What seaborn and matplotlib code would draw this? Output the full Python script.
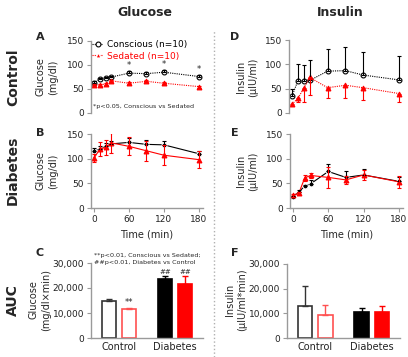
import numpy as np
import pandas as pd
import seaborn as sns
import matplotlib.pyplot as plt
from matplotlib.lines import Line2D
from matplotlib.ticker import StrMethodFormatter

# dados (media e EPM)
tempos = [0, 10, 20, 30, 60, 90, 120, 180]

glic_ctrl_consc = [63, 70, 73, 75, 83, 82, 85, 76]
glic_ctrl_consc_epm = [3, 2, 2, 3, 4, 3, 4, 4]
glic_ctrl_sed = [58, 58, 61, 67, 62, 66, 62, 55]
glic_ctrl_sed_epm = [2, 2, 2, 2, 2, 2, 2, 2]

glic_diab_consc = [115, 120, 125, 130, 133, 129, 128, 110]
glic_diab_consc_epm = [7, 5, 6, 6, 9, 8, 8, 5]
glic_diab_sed = [101, 119, 123, 132, 125, 116, 107, 98]
glic_diab_sed_epm = [8, 14, 15, 20, 18, 20, 20, 17]

ins_ctrl_consc = [35, 66, 66, 67, 86, 87, 78, 68]
ins_ctrl_consc_epm = [14, 34, 33, 41, 46, 48, 48, 50]
ins_ctrl_sed = [18, 30, 51, 73, 52, 57, 52, 40]
ins_ctrl_sed_epm = [4, 8, 28, 35, 22, 26, 25, 17]

ins_diab_consc = [22, 33, 44, 49, 74, 62, 67, 54]
ins_diab_consc_epm = [2, 3, 3, 7, 15, 12, 12, 8]
ins_diab_sed = [26, 30, 61, 66, 62, 57, 67, 53]
ins_diab_sed_epm = [3, 3, 6, 5, 22, 8, 10, 12]

grupos = ['Control', 'Diabetes']
auc_glic_consc = [14800, 23500]
auc_glic_consc_epm = [800, 1400]
auc_glic_sed = [11700, 21500]
auc_glic_sed_epm = [500, 3400]
auc_ins_consc = [13000, 10600]
auc_ins_consc_epm = [8000, 1600]
auc_ins_sed = [9500, 10600]
auc_ins_sed_epm = [3800, 2300]

rotulo_consc = 'Conscious (n=10)'
rotulo_sed = 'Sedated (n=10)'

sns.set_style('ticks')
plt.rcParams['font.family'] = ['DejaVu Sans']

CINZA = '#9a9a9a'
VERM = '#ff0000'

W, H = 408, 357
fig = plt.figure(figsize=(W / 100, H / 100), dpi=100)


def caixa(l, r, t, b):
    return [l / W, 1 - b / H, (r - l) / W, (b - t) / H]


def estilo(ax, eixo_x=True):
    sns.despine(ax=ax, bottom=not eixo_x)
    for s in ['left', 'bottom']:
        ax.spines[s].set_color(CINZA)
        ax.spines[s].set_linewidth(1)
    ax.tick_params(axis='both', colors=CINZA, labelcolor='#222222',
                   labelsize=6.5, length=3, width=0.8, pad=2)
    if not eixo_x:
        ax.tick_params(axis='x', bottom=False, labelbottom=False)


def curva(ax, consc, consc_epm, sed, sed_epm, pontilhado, legenda=False,
          so_baixo=False):
    df = pd.DataFrame({
        'tempo': tempos * 2,
        'valor': consc + sed,
        'grupo': [rotulo_consc] * len(tempos) + [rotulo_sed] * len(tempos),
    })
    ls = (1, 1) if pontilhado else ''
    sns.lineplot(data=df, x='tempo', y='valor', hue='grupo', style='grupo',
                 palette=['black', VERM], markers=['o', '^'],
                 dashes=[ls, ls], markersize=3.5, linewidth=0.8,
                 legend=legenda, ax=ax)
    for ln in ax.get_lines():
        if pontilhado and ln.get_marker() == 'o':
            ln.set_markerfacecolor('white')
            ln.set_markeredgecolor('black')
            ln.set_markeredgewidth(0.8)
        if ln.get_marker() == '^':
            ln.set_markeredgecolor(VERM)
    ax.errorbar(tempos, consc, yerr=[np.zeros(len(tempos)), consc_epm],
                fmt='none', ecolor='black', elinewidth=0.8, capsize=1.5,
                capthick=0.8)
    baixo = sed_epm
    cima = np.zeros(len(tempos)) if so_baixo else sed_epm
    ax.errorbar(tempos, sed, yerr=[baixo, cima], fmt='none', ecolor=VERM,
                elinewidth=0.8, capsize=1.5, capthick=0.8)
    ax.set_xlim(-5, 187)
    ax.set_ylim(0, 150)
    ax.set_yticks([0, 50, 100, 150])
    ax.set_xticks([0, 60, 120, 180])
    ax.set_xlabel('')
    ax.set_ylabel('')


def barras(ax, consc, consc_epm, sed, sed_epm):
    df = pd.DataFrame({
        'grupo': grupos * 2,
        'estado': ['Conscious'] * 2 + ['Sedated'] * 2,
        'valor': consc + sed,
    })
    sns.barplot(data=df, x='grupo', y='valor', hue='estado', width=0.72,
                gap=0.28, errorbar=None, legend=False, ax=ax)
    faces = ['white', 'black', 'white', VERM]
    bordas = ['#333333', 'black', '#ff5050', VERM]
    epm = consc_epm + sed_epm
    for p, f, b, e in zip(ax.patches, faces, bordas, epm):
        p.set_facecolor(f)
        p.set_edgecolor(b)
        p.set_linewidth(1.2)
        xc = p.get_x() + p.get_width() / 2
        ax.errorbar([xc], [p.get_height()], yerr=[[0], [e]], fmt='none',
                    ecolor=b, elinewidth=1, capsize=2.5, capthick=1)
    ax.set_xlim(-0.5, 1.5)
    ax.set_ylim(0, 30000)
    ax.set_yticks([0, 10000, 20000, 30000])
    ax.yaxis.set_major_formatter(StrMethodFormatter('{x:,.0f}'))
    ax.set_xlabel('')
    ax.set_ylabel('')
    ax.tick_params(axis='x', labelsize=7, length=0, pad=3)
    return ax.patches


axA = fig.add_axes(caixa(91, 203, 41, 113))
axB = fig.add_axes(caixa(91, 203, 134, 208))
axC = fig.add_axes(caixa(91, 203, 263, 338))
axD = fig.add_axes(caixa(289, 403, 40, 113))
axE = fig.add_axes(caixa(290, 403, 134, 208))
axF = fig.add_axes(caixa(287, 400, 264, 338))

curva(axA, glic_ctrl_consc, glic_ctrl_consc_epm, glic_ctrl_sed,
      glic_ctrl_sed_epm, True, legenda=True)
curva(axB, glic_diab_consc, glic_diab_consc_epm, glic_diab_sed,
      glic_diab_sed_epm, False)
curva(axD, ins_ctrl_consc, ins_ctrl_consc_epm, ins_ctrl_sed,
      ins_ctrl_sed_epm, True, so_baixo=True)
curva(axE, ins_diab_consc, ins_diab_consc_epm, ins_diab_sed,
      ins_diab_sed_epm, False)

estilo(axA, eixo_x=False)
estilo(axD, eixo_x=False)
for ax in [axB, axE, axC, axF]:
    estilo(ax)

sns.move_legend(axA, 'upper left', bbox_to_anchor=(-0.02, 1.06),
                frameon=False, title=None, fontsize=6.5, handlelength=1.2,
                handletextpad=0.4, labelspacing=0.25, borderaxespad=0)
leg = axA.get_legend()
for txt, cor in zip(leg.get_texts(), ['black', VERM]):
    txt.set_color(cor)
h0 = leg.legend_handles[0]
h0.set_markerfacecolor('white')
h0.set_markeredgecolor('black')
h0.set_markeredgewidth(0.8)

# asteriscos no painel A
for i in [4, 6, 7]:
    axA.text(tempos[i], glic_ctrl_consc[i] + glic_ctrl_consc_epm[i] + 2, '*',
             ha='center', va='bottom', fontsize=6)
axA.text(0.02, 0.06, '*p<0.05, Conscious vs Sedated', transform=axA.transAxes,
         fontsize=4.6, ha='left', va='bottom')

for ax in [axB, axE]:
    ax.set_xlabel('Time (min)', fontsize=7, labelpad=4)

pC = barras(axC, auc_glic_consc, auc_glic_consc_epm, auc_glic_sed,
            auc_glic_sed_epm)
axC.text(pC[2].get_x() + pC[2].get_width() / 2, auc_glic_sed[0] + 700, '**',
         ha='center', va='bottom', fontsize=6)
for p, v, e in [(pC[1], auc_glic_consc[1], auc_glic_consc_epm[1]),
                (pC[3], auc_glic_sed[1], auc_glic_sed_epm[1])]:
    axC.text(p.get_x() + p.get_width() / 2, v + e + 200, '##',
             ha='center', va='bottom', fontsize=5)
axC.text(0.03, 1.05, '**p<0.01, Conscious vs Sedated;\n##p<0.01, Diabetes vs Control',
         transform=axC.transAxes, fontsize=4.6, ha='left', va='center',
         linespacing=1.5)

barras(axF, auc_ins_consc, auc_ins_consc_epm, auc_ins_sed, auc_ins_sed_epm)

# rotulos dos eixos y
def rotulo_y(x, y, s):
    fig.text(x / W, 1 - y / H, s, rotation=90, ha='center', va='center',
             fontsize=7, linespacing=1.3, multialignment='center')

rotulo_y(47, 77, 'Glucose\n(mg/dl)')
rotulo_y(47, 171, 'Glucose\n(mg/dl)')
rotulo_y(40, 300, 'Glucose\n(mg/dl×min)')
rotulo_y(247, 77, 'Insulin\n(µIU/ml)')
rotulo_y(247, 171, 'Insulin\n(µIU/ml)')
rotulo_y(236, 300, 'Insulin\n(µIU/ml*min)')

# letras dos paineis
for x, y, s in [(40, 37, 'A'), (40, 133, 'B'), (40, 253, 'C'),
                (235, 37, 'D'), (235, 133, 'E'), (235, 253, 'F')]:
    fig.text(x / W, 1 - y / H, s, fontsize=8, fontweight='bold',
             ha='center', va='center')

# titulos
fig.text(145 / W, 1 - 12 / H, 'Glucose', fontsize=9, fontweight='bold',
         ha='center', va='center')
fig.text(340 / W, 1 - 12 / H, 'Insulin', fontsize=9, fontweight='bold',
         ha='center', va='center')
for y, s in [(77, 'Control'), (170, 'Diabetes'), (300, 'AUC')]:
    fig.text(13 / W, 1 - y / H, s, fontsize=10, fontweight='bold',
             rotation=90, ha='center', va='center')

fig.add_artist(Line2D([214 / W, 214 / W], [0, 1 - 30 / H],
                      transform=fig.transFigure, ls=':', color='#b0b0b0',
                      lw=1))

fig.savefig('out.png', dpi=100)
